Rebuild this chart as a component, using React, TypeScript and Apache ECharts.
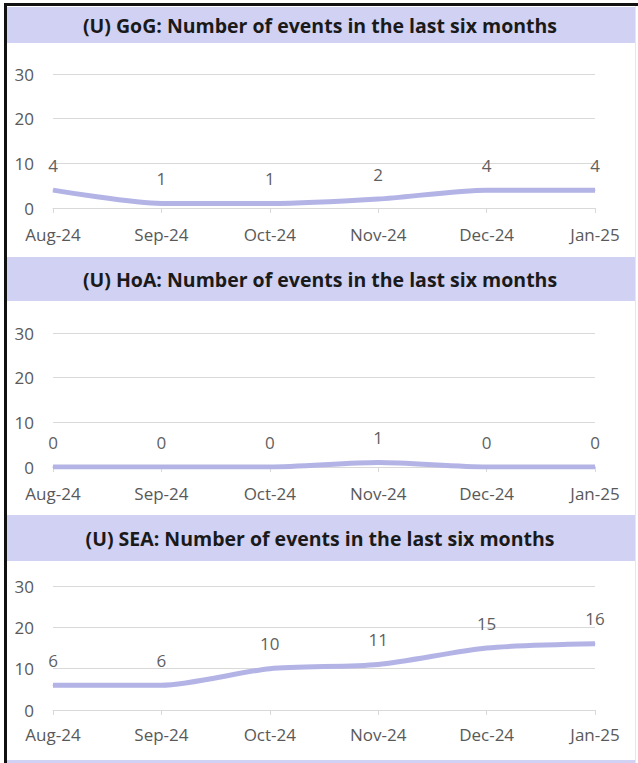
import React, { useEffect, useRef } from "react";
import * as echarts from "echarts";

const months = ["Aug-24", "Sep-24", "Oct-24", "Nov-24", "Dec-24", "Jan-25"];
const gogEvents = [4, 1, 1, 2, 4, 4];
const hoaEvents = [0, 0, 0, 1, 0, 0];
const seaEvents = [6, 6, 10, 11, 15, 16];
const panelTitles = [
  "(U) GoG: Number of events in the last six months",
  "(U) HoA: Number of events in the last six months",
  "(U) SEA: Number of events in the last six months",
];
const yMax = 30;
const yStep = 10;

const W = 638;
const H = 763;
const FONT = "'Open Sans', 'Noto Sans', sans-serif";
const BAND = "#d1d1f3";
const LINE = "#b3b3e6";

const layout = [
  { band: [7, 43], gridTop: 74, gridBottom: 208, xMargin: 18 },
  { band: [257, 301], gridTop: 333, gridBottom: 467, xMargin: 18 },
  { band: [515, 561], gridTop: 586, gridBottom: 710, xMargin: 16 },
];

export default function App() {
  const ref = useRef<HTMLDivElement>(null);
  useEffect(() => {
    if (!ref.current) return;
    const chart = echarts.init(ref.current, undefined, { renderer: "svg" });
    const seriesData = [gogEvents, hoaEvents, seaEvents];

    const grids = layout.map((l) => ({
      left: 53,
      right: W - 595,
      top: l.gridTop,
      height: l.gridBottom - l.gridTop,
      containLabel: false,
    }));

    const xAxes = layout.map((l, i) => ({
      type: "category" as const,
      gridIndex: i,
      data: months,
      boundaryGap: false,
      axisLine: { show: true, lineStyle: { color: "#d9d9d9", width: 1 } },
      axisTick: { show: true, alignWithLabel: true, length: 5, lineStyle: { color: "#d9d9d9" } },
      axisLabel: { color: "#595959", fontFamily: FONT, fontSize: 17, margin: l.xMargin },
      splitLine: { show: false },
    }));

    const yAxes = layout.map((_, i) => ({
      type: "value" as const,
      gridIndex: i,
      min: 0,
      max: yMax,
      interval: yStep,
      axisLine: { show: false },
      axisTick: { show: false },
      axisLabel: { color: "#595959", fontFamily: FONT, fontSize: 17, margin: 19 },
      splitLine: { show: true, lineStyle: { color: "#d9d9d9", width: 1 } },
    }));

    const series = seriesData.map((d, i) => ({
      type: "line" as const,
      xAxisIndex: i,
      yAxisIndex: i,
      data: d,
      smooth: 0.25,
      symbol: "circle",
      symbolSize: 1,
      showSymbol: true,
      itemStyle: { color: LINE },
      lineStyle: { color: LINE, width: 5 },
      label: {
        show: true,
        position: "top" as const,
        distance: 16,
        color: "#5f5f5f",
        fontFamily: FONT,
        fontSize: 17,
      },
      z: 3,
    }));

    const graphic: any[] = [];
    layout.forEach((l, i) => {
      graphic.push({
        type: "rect",
        shape: { x: 7, y: l.band[0], width: 628, height: l.band[1] - l.band[0] },
        style: { fill: BAND },
        z: 0,
      });
      graphic.push({
        type: "text",
        x: 320,
        y: (l.band[0] + l.band[1]) / 2,
        style: {
          text: panelTitles[i],
          fill: "#1a1a1a",
          font: `bold 19.5px ${FONT}`,
          align: "center",
          verticalAlign: "middle",
        },
        z: 2,
      });
    });
    graphic.push({
      type: "rect",
      shape: { x: 7, y: 760, width: 628, height: 3 },
      style: { fill: BAND },
    });
    graphic.push({
      type: "rect",
      shape: { x: 635, y: 6, width: 1, height: 757 },
      style: { fill: "#e6e6ee" },
    });
    graphic.push({
      type: "rect",
      shape: { x: 4, y: 3, width: 634, height: 3 },
      style: { fill: "#111111" },
    });
    graphic.push({
      type: "rect",
      shape: { x: 4, y: 3, width: 3, height: 760 },
      style: { fill: "#111111" },
    });

    chart.setOption({
      animation: false,
      backgroundColor: "#ffffff",
      grid: grids,
      xAxis: xAxes,
      yAxis: yAxes,
      series,
      graphic,
    });
    return () => chart.dispose();
  }, []);
  return (
    <div
      ref={ref}
      style={{ position: "fixed", left: 0, top: 0, width: W, height: H }}
    />
  );
}
